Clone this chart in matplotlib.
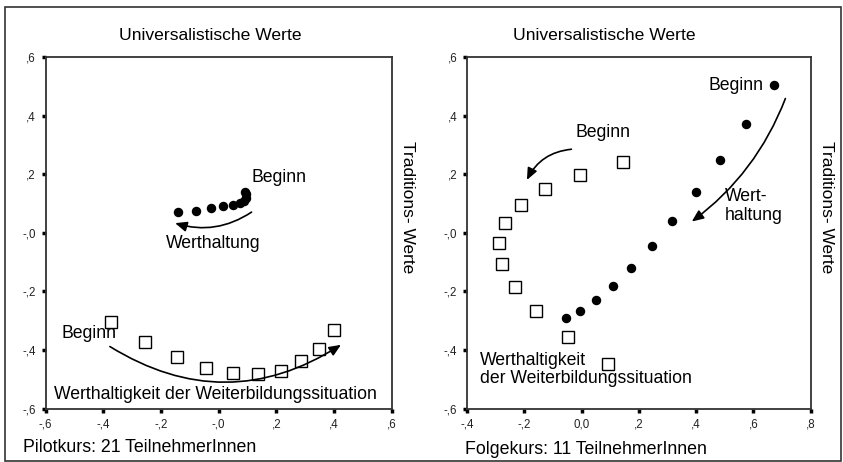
import matplotlib.pyplot as plt
from matplotlib.patches import Rectangle

plt.rcParams['font.family'] = ['Liberation Sans', 'DejaVu Sans']

# Pilotkurs: mean positions per session
pilot_wert_x = [-0.140, -0.078, -0.028, 0.016, 0.050, 0.074, 0.088, 0.096, 0.094, 0.091]
pilot_wert_y = [0.070, 0.076, 0.084, 0.090, 0.096, 0.102, 0.110, 0.119, 0.131, 0.141]
pilot_situ_x = [-0.373, -0.254, -0.144, -0.045, 0.050, 0.138, 0.215, 0.285, 0.347, 0.401]
pilot_situ_y = [-0.304, -0.372, -0.425, -0.460, -0.478, -0.481, -0.472, -0.438, -0.397, -0.331]

# Folgekurs
folge_wert_x = [0.671, 0.575, 0.483, 0.398, 0.317, 0.245, 0.174, 0.108, 0.050, -0.006, -0.054]
folge_wert_y = [0.504, 0.371, 0.250, 0.138, 0.041, -0.044, -0.120, -0.181, -0.230, -0.266, -0.291]
folge_situ_x = [0.146, -0.006, -0.127, -0.210, -0.266, -0.288, -0.278, -0.233, -0.160, -0.049, 0.091]
folge_situ_y = [0.243, 0.199, 0.150, 0.094, 0.034, -0.034, -0.106, -0.185, -0.266, -0.355, -0.449]

y_ticks = [-0.6, -0.4, -0.2, 0.0, 0.2, 0.4, 0.6]
y_labels = ['-,6', '-,4', '-,2', '-,0', ',2', ',4', ',6']
pilot_xticks = [-0.6, -0.4, -0.2, 0.0, 0.2, 0.4, 0.6]
pilot_xlabels = ['-,6', '-,4', '-,2', '-,0', ',2', ',4', ',6']
folge_xticks = [-0.4, -0.2, 0.0, 0.2, 0.4, 0.6, 0.8]
folge_xlabels = ['-,4', '-,2', '0,0', ',2', ',4', ',6', ',8']

FS = 12.7

fig = plt.figure(figsize=(8.43, 4.62), dpi=100)
ax1 = fig.add_axes([0.054, 0.1154, 0.4107, 0.7612])
ax2 = fig.add_axes([0.554, 0.1154, 0.4077, 0.7612])

# frame round the whole figure
fig.patches.append(Rectangle((5 / 843, 1 / 462), 836 / 843, 454 / 462, transform=fig.transFigure,
                             fill=False, edgecolor='#333333', linewidth=1.2))


def style_axes(ax, xticks, xlabels, xlim, title_x):
    ax.set_xlim(xlim)
    ax.set_ylim(-0.6, 0.6)
    ax.set_xticks(xticks)
    ax.set_xticklabels(xlabels)
    ax.set_yticks(y_ticks)
    ax.set_yticklabels(y_labels)
    for s in ax.spines.values():
        s.set_linewidth(1.3)
        s.set_color('#333333')
    ax.tick_params(direction='out', length=3, width=2.5, color='black',
                   labelsize=8.3, labelcolor='#222222', pad=4)
    ax.text(title_x, 1.0625, 'Universalistische Werte', transform=ax.transAxes,
            fontsize=12.6, ha='center', va='center')
    ax.text(1.045, 0.574, 'Traditions- Werte', transform=ax.transAxes, rotation=270,
            ha='center', va='center', fontsize=12.5)


style_axes(ax1, pilot_xticks, pilot_xlabels, (-0.6, 0.6), 0.475)
style_axes(ax2, folge_xticks, folge_xlabels, (-0.4, 0.8), 0.399)

arrow = dict(arrowstyle='-|>,head_length=0.7,head_width=0.3', color='black', lw=1.2)

# left panel
ax1.plot(pilot_wert_x, pilot_wert_y, 'o', color='black', markersize=5.8)
ax1.plot(pilot_situ_x, pilot_situ_y, 's', markerfacecolor='white', markeredgecolor='black',
         markersize=8, markeredgewidth=1)
ax1.text(0.113, 0.19, 'Beginn', fontsize=FS, ha='left', va='center')
ax1.annotate('', xy=(-0.16, 0.036), xytext=(0.122, 0.076),
             arrowprops=dict(arrow, connectionstyle='arc3,rad=-0.25'))
ax1.text(-0.02, -0.037, 'Werthaltung', fontsize=FS, ha='center', va='center')
ax1.text(-0.545, -0.343, 'Beginn', fontsize=FS, ha='left', va='center')
ax1.annotate('', xy=(0.432, -0.377), xytext=(-0.385, -0.383),
             arrowprops=dict(arrow, connectionstyle='arc3,rad=0.32'))
ax1.text(-0.012, -0.551, 'Werthaltigkeit der Weiterbildungssituation', fontsize=FS,
         ha='center', va='center')

# right panel
ax2.plot(folge_wert_x, folge_wert_y, 'o', color='black', markersize=5.8)
ax2.plot(folge_situ_x, folge_situ_y, 's', markerfacecolor='white', markeredgecolor='black',
         markersize=8, markeredgewidth=1)
ax2.text(0.636, 0.504, 'Beginn', fontsize=FS, ha='right', va='center')
ax2.annotate('', xy=(0.377, 0.033), xytext=(0.715, 0.467),
             arrowprops=dict(arrow, connectionstyle='arc3,rad=-0.15'))
ax2.text(0.499, 0.093, 'Wert-\nhaltung', fontsize=FS, ha='left', va='center', linespacing=1.15)
ax2.text(-0.022, 0.343, 'Beginn', fontsize=FS, ha='left', va='center')
ax2.annotate('', xy=(-0.195, 0.172), xytext=(-0.026, 0.286),
             arrowprops=dict(arrow, connectionstyle='arc3,rad=0.3'))
ax2.text(-0.354, -0.467, 'Werthaltigkeit\nder Weiterbildungssituation', fontsize=FS,
         ha='left', va='center', linespacing=1.1)

fig.text(23 / 843, 1 - 447 / 462, 'Pilotkurs: 21 TeilnehmerInnen', fontsize=12.8,
         ha='left', va='center')
fig.text(465 / 843, 1 - 450 / 462, 'Folgekurs: 11 TeilnehmerInnen', fontsize=12.8,
         ha='left', va='center')

fig.savefig('out.png', dpi=100)
